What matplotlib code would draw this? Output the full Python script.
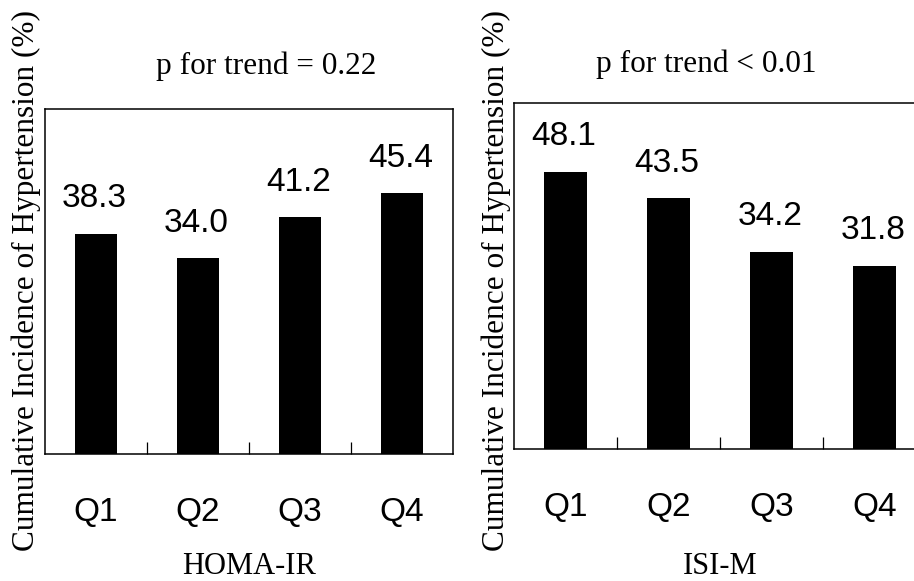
import numpy as np
import matplotlib.pyplot as plt

# data
quartiles = ['Q1', 'Q2', 'Q3', 'Q4']
homa_ir = [38.3, 34.0, 41.2, 45.4]
isi_m = [48.1, 43.5, 34.2, 31.8]
p_homa = 'p for trend = 0.22'
p_isi = 'p for trend < 0.01'
ylab = 'Cumulative Incidence of Hypertension (%)'

serif = 'Liberation Serif'
sans = 'Liberation Sans'

fig = plt.figure(figsize=(9.14, 5.81), dpi=100)
ax1 = fig.add_axes([0.0492, 0.2186, 0.4464, 0.5938])
ax2 = fig.add_axes([0.5624, 0.2272, 0.4508, 0.5955])


def panel(ax, vals, title, xlab, tx, ty, ly):
    x = np.arange(len(vals))
    ax.bar(x, vals, width=0.41, color='black')
    ax.set_xlim(-0.5, 3.5)
    ax.set_ylim(0, 60)
    ax.set_yticks([])
    # category labels at centres, tick marks between categories
    ax.set_xticks(x)
    ax.set_xticklabels(quartiles, fontsize=24, family=sans)
    ax.tick_params(axis='x', which='major', length=0, pad=31)
    ax.set_xticks(x[:-1] + 0.5, minor=True)
    ax.tick_params(axis='x', which='minor', direction='in', length=8.6, width=0.9)
    for s in ax.spines.values():
        s.set_linewidth(1.1)
    for xi, v in zip(x, vals):
        ax.annotate('%.1f' % v, (xi, v), xytext=(-1, 19), textcoords='offset points',
                    ha='center', va='baseline', fontsize=24, family=sans)
    ax.text(tx, ty, title, transform=ax.transAxes, ha='center', va='center',
            fontsize=22.5, family=serif)
    ax.text(0.5, ly, xlab, transform=ax.transAxes, ha='center', va='center',
            fontsize=22, family=serif)


panel(ax1, homa_ir, p_homa, 'HOMA-IR', 0.542, 1.125, -0.327)
panel(ax2, isi_m, p_isi, 'ISI-M', 0.466, 1.111, -0.34)

fig.text(0.029, 0.517, ylab, rotation=90, ha='center', va='center',
         fontsize=22.5, family=serif)
fig.text(0.543, 0.517, ylab, rotation=90, ha='center', va='center',
         fontsize=22.5, family=serif)

fig.savefig('out.png', dpi=100)
